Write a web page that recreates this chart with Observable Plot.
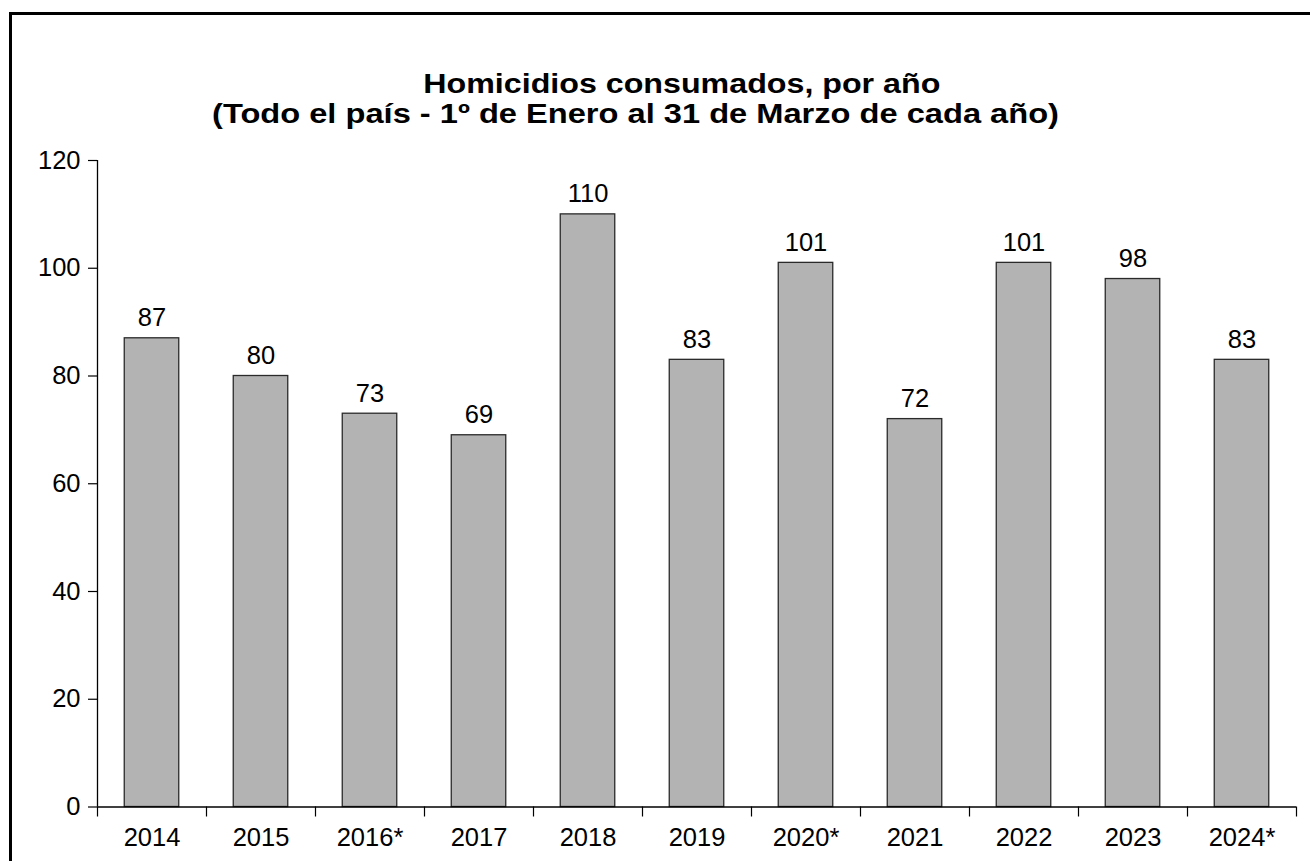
<!DOCTYPE html>
<html>
<head>
<meta charset="utf-8">
<script src="https://cdn.jsdelivr.net/npm/d3@7"></script>
<script src="https://cdn.jsdelivr.net/npm/@observablehq/plot@0.6"></script>
<style>
  html, body { margin: 0; padding: 0; background: #fff; overflow: hidden; width: 1310px; height: 861px; }
  #wrap { position: relative; width: 1310px; height: 861px; overflow: hidden; }
  #frame { position: absolute; left: 9px; top: 12px; width: 1400px; height: 1000px; border: 3px solid #000; box-sizing: border-box; }
  #title { position: absolute; left: 0; top: 69px; width: 1280px; text-align: center; font-family: "Liberation Sans", Arial, sans-serif; font-weight: bold; font-size: 28px; line-height: 29.5px; color: #000; }
  #title div { position: relative; white-space: nowrap; }
  #title span { display: inline-block; transform: scaleX(1.15); transform-origin: 50% 50%; }
  #t2 span { transform: scaleX(1.165); }
  #t1 { left: 41.5px; }
  #t2 { left: -5px; }
  #chart { position: absolute; left: 0; top: 0; }
</style>
</head>
<body>
<div id="wrap">
  <div id="frame"></div>
  <div id="chart"></div>
  <div id="title"><div id="t1"><span>Homicidios consumados, por año</span></div><div id="t2"><span>(Todo el país - 1º de Enero al 31 de Marzo de cada año)</span></div></div>
</div>
<script>
const years = ["2014", "2015", "2016*", "2017", "2018", "2019", "2020*", "2021", "2022", "2023", "2024*"];
const values = [87, 80, 73, 69, 110, 83, 101, 72, 101, 98, 83];
const yTicks = [0, 20, 40, 60, 80, 100, 120];

const data = years.map((year, i) => ({year, value: values[i], i}));

const chart = Plot.plot({
  width: 1310,
  height: 861,
  marginTop: 160,
  marginLeft: 97,
  marginRight: 14,
  marginBottom: 54.5,
  style: {fontFamily: "'Liberation Sans', Arial, sans-serif", fontSize: "25.5px", color: "#000", background: "transparent"},
  x: {type: "linear", domain: [0, years.length]},
  y: {domain: [0, 120]},
  marks: [
    Plot.rectY(data, {x1: d => d.i + 0.25, x2: d => d.i + 0.75, y1: 0, y2: "value", fill: "#b3b3b3", stroke: "#2a2a2a", strokeWidth: 1.3}),
    Plot.text(data, {x: d => d.i + 0.5, y: "value", text: d => String(d.value), lineAnchor: "bottom", dy: -12, fill: "#000"}),
    Plot.axisY({ticks: yTicks, tickSize: 9, tickPadding: 8, tickFormat: d => String(d), stroke: "#000", strokeWidth: 1.2, label: null}),
    Plot.axisX({ticks: d3.range(0, years.length + 1), tickSize: 10, tickFormat: () => "", stroke: "#000", strokeWidth: 1.2, label: null}),
    Plot.axisX({ticks: d3.range(0, years.length).map(i => i + 0.5), tickSize: 0, tickPadding: 21, tickFormat: v => years[Math.floor(v)], label: null}),
    Plot.ruleX([0], {stroke: "#000", strokeWidth: 1.3}),
    Plot.ruleY([0], {stroke: "#000", strokeWidth: 1.3})
  ]
});
document.getElementById("chart").appendChild(chart);
</script>
</body>
</html>
